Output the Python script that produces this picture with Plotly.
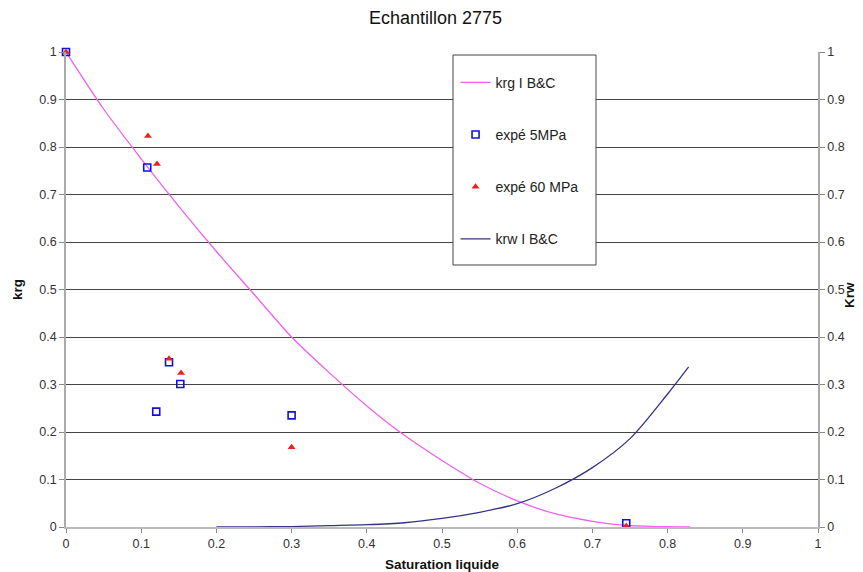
import plotly.graph_objects as go

# Brooks & Corey curves
krg_sat = [0.0, 0.05, 0.10, 0.15, 0.20, 0.25, 0.30, 0.35, 0.40, 0.45, 0.50, 0.55, 0.60, 0.65, 0.70, 0.74, 0.80, 0.83]
krg_val = [1.0, 0.88, 0.775, 0.675, 0.58, 0.49, 0.40, 0.325, 0.255, 0.193, 0.140, 0.092, 0.055, 0.028, 0.012, 0.004, 0.0005, 0.0]

krw_sat = [0.20, 0.25, 0.30, 0.35, 0.40, 0.45, 0.50, 0.55, 0.60, 0.65, 0.70, 0.75, 0.80, 0.828]
krw_val = [0.0, 0.0003, 0.001, 0.003, 0.005, 0.009, 0.018, 0.031, 0.049, 0.081, 0.125, 0.186, 0.28, 0.337]

# experimental points
exp5_sat = [0.0, 0.108, 0.120, 0.137, 0.152, 0.300, 0.745]
exp5_val = [1.0, 0.757, 0.243, 0.347, 0.301, 0.235, 0.008]

exp60_sat = [0.0, 0.109, 0.121, 0.137, 0.153, 0.300, 0.745]
exp60_val = [1.0, 0.823, 0.764, 0.354, 0.324, 0.168, 0.002]

tick_vals = [0, 0.1, 0.2, 0.3, 0.4, 0.5, 0.6, 0.7, 0.8, 0.9, 1]
tick_text = ["0", "0.1", "0.2", "0.3", "0.4", "0.5", "0.6", "0.7", "0.8", "0.9", "1"]

fig = go.Figure()
fig.add_trace(go.Scatter(x=krg_sat, y=krg_val, mode="lines", name="krg I B&C",
                         line=dict(color="#f060f0", width=1.3, shape="spline", smoothing=0.8),
                         legendgroup="a"))
fig.add_trace(go.Scatter(x=exp5_sat, y=exp5_val, mode="markers", name="expé 5MPa",
                         marker=dict(symbol="square-open", color="#1010e0", size=7,
                                     line=dict(width=1.6, color="#1010e0")),
                         cliponaxis=False, legendgroup="b"))
fig.add_trace(go.Scatter(x=exp60_sat, y=exp60_val, mode="markers", name="expé 60 MPa",
                         marker=dict(symbol="triangle-up", color="#ee2020", size=7),
                         cliponaxis=False, legendgroup="c"))
fig.add_trace(go.Scatter(x=krw_sat, y=krw_val, mode="lines", name="krw I B&C",
                         line=dict(color="#333385", width=1.3, shape="spline", smoothing=0.8),
                         yaxis="y2", legendgroup="d"))

# page body has an 8px margin, so the figure is drawn from (8, 8)
W, H = 855, 564
L, R, T, B = 58, 45, 44, 45
fig.update_layout(
    width=W, height=H,
    margin=dict(l=L, r=R, t=T, b=B),
    paper_bgcolor="white", plot_bgcolor="white",
    font=dict(family="Liberation Sans, Arial, sans-serif", size=12.5, color="#333"),
    title=dict(text="Echantillon 2775", x=0.5, xanchor="center", y=0.982, yanchor="middle",
               font=dict(size=18, color="#111")),
    showlegend=True,
    legend=dict(x=0.518, y=0.969, xanchor="left", yanchor="top",
                bgcolor="rgba(0,0,0,0)", borderwidth=0,
                tracegroupgap=31, font=dict(size=14, color="#222"), itemwidth=30),
    xaxis=dict(range=[0, 1], tickvals=tick_vals, ticktext=tick_text, automargin=False,
               showgrid=False, zeroline=False, showline=True, linecolor="#bbbbbb", linewidth=2,
               ticks="outside", ticklen=4, tickcolor="#888",
               title=dict(text="<b>Saturation liquide</b>", standoff=16, font=dict(size=13.5, color="#111"))),
    yaxis=dict(range=[0, 1], tickvals=tick_vals, ticktext=tick_text, automargin=False,
               showgrid=True, gridcolor="#444444", gridwidth=1.2, zeroline=False,
               showline=True, linecolor="#aaaaaa", linewidth=1.5,
               ticks="outside", ticklen=5, tickcolor="#888",
               title=dict(text="<b>krg</b>", standoff=14, font=dict(size=13.5, color="#111"))),
    yaxis2=dict(range=[0, 1], tickvals=tick_vals, ticktext=tick_text, overlaying="y", side="right",
                automargin=False,
                showgrid=False, zeroline=False, showline=True, linecolor="#aaaaaa", linewidth=1.5,
                ticks="outside", ticklen=5, tickcolor="#888"),
)

# right axis title placed as a rotated annotation (reference centre ~ x 849, y 295)
OFF = 8
fig.add_annotation(text="<b>Krw</b>", textangle=-90, showarrow=False,
                   xref="paper", yref="paper",
                   x=(849 - OFF - L) / (W - L - R), y=(H - B - (295 - OFF)) / (H - T - B),
                   xanchor="center", yanchor="middle",
                   font=dict(size=13.5, color="#111"))

# legend frame (reference pixels 453..596 x 55..265, minus the 8px page offset)
fig.add_shape(type="rect", xref="paper", yref="paper",
              x0=(453 - OFF - L) / (W - L - R), x1=(596 - OFF - L) / (W - L - R),
              y0=(H - B - (265 - OFF)) / (H - T - B), y1=(H - B - (55 - OFF)) / (H - T - B),
              line=dict(color="#444", width=1), fillcolor="white", layer="above")

fig.write_html("out.html")
